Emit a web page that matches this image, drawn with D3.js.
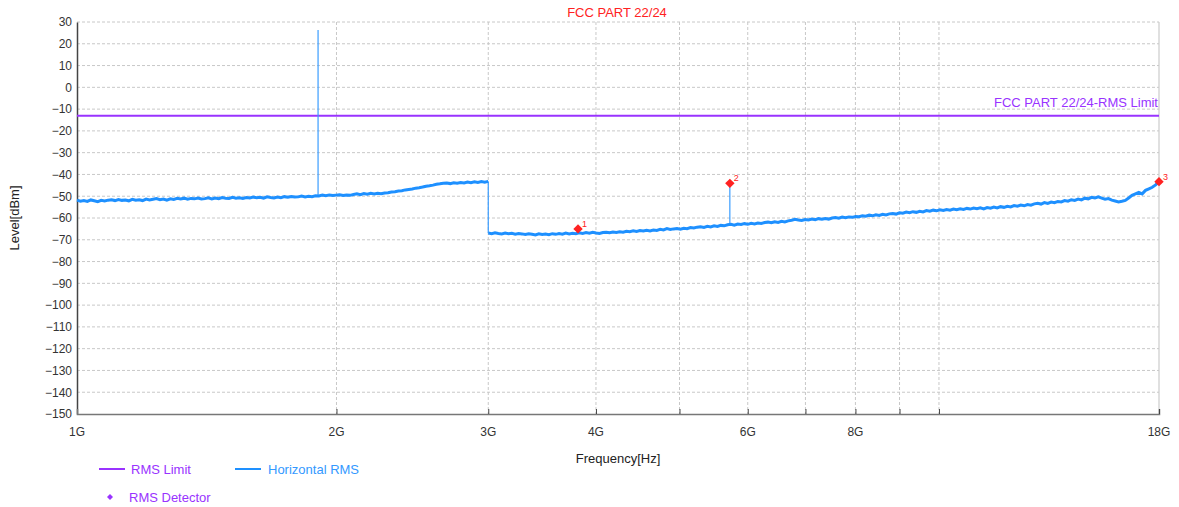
<!DOCTYPE html>
<html><head><meta charset="utf-8">
<script src="https://cdn.jsdelivr.net/npm/d3@7"></script>
<style>
html,body{margin:0;padding:0;background:#fff;}
svg{display:block;font-family:"Liberation Sans",Arial,sans-serif;}
</style></head>
<body>
<svg id="chart" width="1179" height="507"></svg>
<script>
// ---------- DATA ----------
const title = "FCC PART 22/24";
const limitName = "FCC PART 22/24-RMS Limit";
const limitLevel = -13;
const yTicks = [30,20,10,0,-10,-20,-30,-40,-50,-60,-70,-80,-90,-100,-110,-120,-130,-140,-150];
const xTickFreqs = [2,3,4,5,6,7,8,9,10,18];        // GHz
const xLabelFreqs = [1,2,3,4,6,8,18];
const xLabelTexts = ["1G","2G","3G","4G","6G","8G","18G"];

// sweep segment A: 1 GHz -> 3 GHz (dBm)
const sweepAStart = 1, sweepAStop = 3;
const levelsA = [
-51.8,-52.3,-52.0,-52.4,-51.7,-52.1,-52.5,-51.9,-52.2,-51.8,
-51.6,-52.0,-51.5,-51.9,-51.7,-52.1,-51.4,-51.8,-51.6,-52.0,
-51.3,-51.7,-51.4,-51.1,-51.6,-51.3,-51.8,-51.2,-51.5,-51.0,
-51.3,-50.9,-51.4,-51.0,-51.2,-50.8,-51.3,-51.1,-50.7,-51.2,
-50.8,-51.1,-50.6,-50.9,-51.0,-50.5,-50.9,-50.7,-51.0,-50.6,
-50.8,-50.4,-50.7,-50.5,-50.9,-50.3,-50.6,-50.8,-50.4,-50.7,
-50.2,-50.5,-50.1,-50.4,-50.3,-49.9,-50.3,-50.0,-50.2,-49.8,
-49.9,-49.5,-49.8,-49.4,-49.7,-49.5,-49.3,-49.7,-49.4,-49.6,
-49.2,-48.9,-49.3,-48.8,-49.1,-48.7,-49.0,-48.6,-48.9,-48.5,
-48.4,-48.1,-47.9,-47.6,-47.5,-47.1,-46.9,-46.7,-46.3,-46.1,
-45.8,-45.4,-45.2,-44.9,-44.5,-44.3,-44.0,-43.9,-44.2,-43.8,
-44.0,-43.7,-43.9,-43.5,-43.8,-43.4,-43.7,-43.3,-43.6,-43.2
];
// sweep segment B: 3 GHz -> 18 GHz (dBm)
const sweepBStart = 3, sweepBStop = 18;
const levelsB = [
-66.9,-67.2,-66.8,-67.1,-67.3,-66.9,-67.2,-67.0,-67.4,-67.1,
-67.3,-67.6,-67.2,-67.5,-67.8,-67.3,-67.6,-67.4,-67.7,-67.2,
-67.5,-67.1,-67.4,-66.9,-67.3,-67.0,-67.2,-66.8,-67.1,-66.7,
-67.0,-66.6,-66.9,-67.1,-66.7,-66.5,-66.8,-66.4,-66.6,-66.3,
-66.5,-66.1,-66.3,-65.9,-66.2,-65.8,-66.0,-65.6,-65.9,-65.5,
-65.7,-65.2,-65.5,-64.9,-65.3,-65.0,-64.8,-65.1,-64.7,-64.9,
-64.4,-64.6,-64.2,-64.0,-64.3,-63.8,-64.1,-63.6,-63.9,-63.4,
-63.6,-63.1,-62.9,-63.3,-62.8,-63.0,-62.6,-62.9,-62.4,-62.7,
-62.3,-62.5,-62.1,-61.9,-62.2,-61.7,-62.0,-61.5,-61.8,-61.3,
-61.0,-60.6,-60.9,-61.1,-60.7,-60.9,-60.5,-60.8,-60.3,-60.6,
-60.2,-60.5,-60.0,-59.8,-60.1,-59.6,-59.9,-59.5,-59.7,-59.3,
-59.4,-59.0,-59.2,-58.7,-59.0,-58.5,-58.8,-58.3,-58.6,-58.1,
-57.9,-58.2,-57.6,-57.8,-57.3,-57.6,-57.1,-57.4,-56.9,-57.2,
-56.6,-56.9,-56.4,-56.7,-56.2,-56.5,-56.1,-56.4,-55.9,-56.2,
-55.8,-56.1,-55.6,-55.9,-55.4,-55.7,-55.3,-55.8,-55.2,-55.5,
-55.0,-55.4,-54.8,-55.1,-54.6,-54.9,-54.3,-54.6,-54.1,-54.4,
-53.8,-54.1,-53.5,-53.2,-53.6,-52.9,-53.3,-52.7,-53.0,-52.4,
-52.6,-52.0,-52.3,-51.6,-51.9,-51.3,-51.7,-50.9,-51.2,-50.5,
-50.8,-50.3,-50.9,-51.4,-51.1,-51.8,-52.2,-52.6,-52.3,-51.9,
-50.8,-49.6,-48.9,-48.2,-48.9,-47.3,-46.6,-45.9,-44.8,-43.3
];
// narrow spurs (GHz, base dBm, peak dBm)
const spurFreqs = [1.904, 5.72];
const spurBases = [-49.6, -62.6];
const spurPeaks = [26.3, -44.1];
// detector markers
const markerFreqs = [3.813, 5.72, 18];
const markerLevels = [-65.0, -44.1, -43.3];
const markerLabels = ["1","2","3"];

// ---------- LAYOUT ----------
const L = 77, R = 1159, T = 22, B = 414;
const svg = d3.select("#chart");
const x = d3.scaleLog().domain([1,18]).range([L,R]);
const y = d3.scaleLinear().domain([-150,30]).range([B,T]);

const purple = "#9933ff", blue = "#1e90ff", red = "#ff2222";

function sweep(start, stop, levels){
  const n = levels.length;
  return levels.map((v,i)=>({f: start*Math.pow(stop/start, i/(n-1)), v}));
}
const traceA = sweep(sweepAStart, sweepAStop, levelsA);
const traceB = sweep(sweepBStart, sweepBStop, levelsB);

// grid
const grid = svg.append("g");
grid.selectAll("line.h").data(yTicks.filter(d=>d>-150)).join("line")
  .attr("x1",L).attr("x2",R).attr("y1",d=>y(d)).attr("y2",d=>y(d))
  .attr("stroke","#c8c8c8").attr("stroke-dasharray","3,2").attr("stroke-width",1);
grid.selectAll("line.v").data(xTickFreqs.filter(d=>d<18)).join("line")
  .attr("x1",d=>x(d)).attr("x2",d=>x(d)).attr("y1",T).attr("y2",B)
  .attr("stroke","#c8c8c8").attr("stroke-dasharray","3,2").attr("stroke-width",1);
grid.append("line").attr("x1",x(18)).attr("x2",x(18)).attr("y1",T).attr("y2",B)
  .attr("stroke","#cccccc").attr("stroke-width",1.2);

// y axis
const yAxis = d3.axisLeft(y).tickValues(yTicks).tickSize(0).tickPadding(5).tickFormat(d3.format("d"));
const gy = svg.append("g").attr("transform",`translate(${L},0)`).call(yAxis);
gy.select(".domain").attr("stroke","#444").attr("stroke-width",1.5);
gy.selectAll("text").attr("font-size",12).attr("fill","#333").attr("font-family","Liberation Sans, Arial, sans-serif");

// x axis
const xAxis = d3.axisBottom(x).tickValues(xTickFreqs).tickSize(-5).tickFormat("");
const gx = svg.append("g").attr("transform",`translate(0,${B})`).call(xAxis);
gx.select(".domain").attr("stroke","#777").attr("stroke-width",1.5);
gx.selectAll(".tick line").attr("stroke","#444");
svg.append("g").selectAll("text").data(xLabelFreqs).join("text")
  .attr("x",d=>x(d)).attr("y",B+22).attr("text-anchor","middle")
  .attr("font-size",12).attr("fill","#333").text((d,i)=>xLabelTexts[i]);

// axis titles
svg.append("text").attr("x",618).attr("y",463).attr("text-anchor","middle")
  .attr("font-size",13).attr("fill","#222").text("Frequency[Hz]");
svg.append("text").attr("transform","translate(19,218) rotate(-90)").attr("text-anchor","middle")
  .attr("font-size",13).attr("fill","#222").text("Level[dBm]");

// title
svg.append("text").attr("x",617).attr("y",17).attr("text-anchor","middle")
  .attr("font-size",13).attr("fill",red).text(title);

// limit
svg.append("line").attr("x1",L).attr("x2",R).attr("y1",y(limitLevel)).attr("y2",y(limitLevel))
  .attr("stroke",purple).attr("stroke-width",2);
svg.append("text").attr("x",R-1).attr("y",y(limitLevel)-9).attr("text-anchor","end")
  .attr("font-size",13).attr("fill",purple).text(limitName);

// spurs
svg.append("g").selectAll("line").data(spurFreqs).join("line")
  .attr("x1",d=>x(d)).attr("x2",d=>x(d))
  .attr("y1",(d,i)=>y(spurBases[i])).attr("y2",(d,i)=>y(spurPeaks[i]))
  .attr("stroke","#3a9dff").attr("stroke-width",1.2);

// band edge step (thin connector between the two sweeps)
const endA = traceA[traceA.length-1], startB = traceB[0];
svg.append("line").attr("x1",x(endA.f)).attr("x2",x(startB.f))
  .attr("y1",y(endA.v)).attr("y2",y(startB.v))
  .attr("stroke","#3a9dff").attr("stroke-width",1.2);

// trace
const line = d3.line().x(d=>x(d.f)).y(d=>y(d.v));
svg.append("g").selectAll("path").data([traceA, traceB]).join("path")
  .attr("d",line).attr("fill","none")
  .attr("stroke",blue).attr("stroke-width",3).attr("stroke-linejoin","miter").attr("stroke-miterlimit",3);

// markers
const diamond = d3.symbol().type(d3.symbolSquare).size(44);
const mg = svg.append("g");
mg.selectAll("path").data(markerFreqs).join("path")
  .attr("d",diamond)
  .attr("transform",(d,i)=>`translate(${x(d)},${y(markerLevels[i])}) rotate(45)`)
  .attr("fill",red);
mg.selectAll("text").data(markerFreqs).join("text")
  .attr("x",d=>x(d)+4).attr("y",(d,i)=>y(markerLevels[i])-2)
  .attr("font-size",9).attr("fill",red).text((d,i)=>markerLabels[i]);

// legend
const lg = svg.append("g").attr("font-size",13);
lg.append("line").attr("x1",99).attr("x2",125).attr("y1",469).attr("y2",469).attr("stroke",purple).attr("stroke-width",2);
lg.append("text").attr("x",131).attr("y",473.5).attr("fill",purple).text("RMS Limit");
lg.append("line").attr("x1",235).attr("x2",261).attr("y1",469).attr("y2",469).attr("stroke",blue).attr("stroke-width",2);
lg.append("text").attr("x",268).attr("y",473.5).attr("fill","#3399ff").text("Horizontal RMS");
lg.append("path").attr("d",d3.symbol().type(d3.symbolSquare).size(18)).attr("transform","translate(110,497) rotate(45)").attr("fill",purple);
lg.append("text").attr("x",129).attr("y",501.5).attr("fill",purple).text("RMS Detector");
</script>
</body></html>
